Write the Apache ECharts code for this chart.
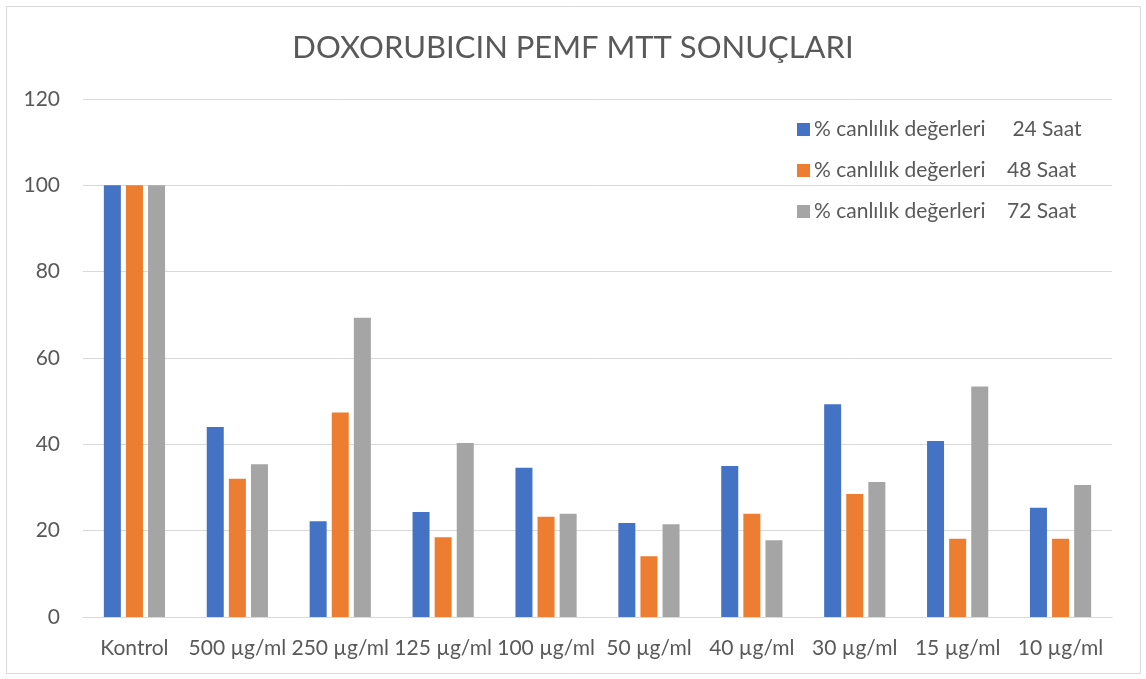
<!DOCTYPE html>
<html>
<head>
<meta charset="utf-8">
<script src="https://cdn.jsdelivr.net/npm/echarts@6/dist/echarts.min.js"></script>
<style>
html,body{margin:0;padding:0;background:#fff;}
#c{width:1146px;height:679px;}
</style>
</head>
<body>
<div id="c"></div>
<script>
const categories = ['Kontrol','500 µg/ml','250 µg/ml','125 µg/ml','100 µg/ml','50 µg/ml','40 µg/ml','30 µg/ml','15 µg/ml','10 µg/ml'];
const seriesNames = ['% canlılık değerleri     24 Saat','% canlılık değerleri    48 Saat','% canlılık değerleri    72 Saat'];
const values24 = [100, 44.0, 22.2, 24.3, 34.6, 21.8, 35.0, 49.3, 40.8, 25.3];
const values48 = [100, 32.0, 47.4, 18.5, 23.2, 14.1, 23.9, 28.5, 18.1, 18.1];
const values72 = [100, 35.4, 69.3, 40.3, 23.9, 21.5, 17.8, 31.3, 53.4, 30.6];
const yTicks = [0,20,40,60,80,100,120];

const colors = ['#4472C4','#ED7D31','#A5A5A5'];
const font = 'Lato, "Open Sans", sans-serif';
const chart = echarts.init(document.getElementById('c'));
const data = [values24, values48, values72];
chart.setOption({
  animation:false,
  color: colors,
  title:{
    text:'DOXORUBICIN PEMF MTT SONUÇLARI',
    left:'center', top:27,
    textStyle:{fontFamily:font, fontSize:31, fontWeight:'normal', color:'#595959'}
  },
  legend:{
    orient:'vertical', left:792, top:114,
    itemWidth:13, itemHeight:13, itemGap:20,
    icon:'rect',
    textStyle:{fontFamily:font, fontSize:21, color:'#595959', padding:[0,0,0,-1]},
    data: seriesNames
  },
  graphic:[{type:'rect', shape:{x:6.5,y:6.5,width:1134,height:667}, style:{fill:'none', stroke:'#D9D9D9', lineWidth:1}, silent:true, z:-1}],
  grid:{left:83, right:34, top:99, bottom:62},
  xAxis:{
    type:'category', data:categories,
    axisLine:{lineStyle:{color:'#D9D9D9'}},
    axisTick:{show:false},
    axisLabel:{fontFamily:font, fontSize:21, color:'#595959', margin:21, interval:0}
  },
  yAxis:{
    type:'value', min:yTicks[0], max:yTicks[yTicks.length-1], interval:20,
    axisLine:{show:false}, axisTick:{show:false},
    splitLine:{lineStyle:{color:'#D9D9D9'}},
    axisLabel:{fontFamily:font, fontSize:21, color:'#595959', margin:23}
  },
  series: seriesNames.map((n,i)=>({
    name:n, type:'bar', data:data[i],
    barWidth:17, barGap:'30%', barCategoryGap:'41%',
    itemStyle:{color:colors[i]}
  }))
});
</script>
</body>
</html>
